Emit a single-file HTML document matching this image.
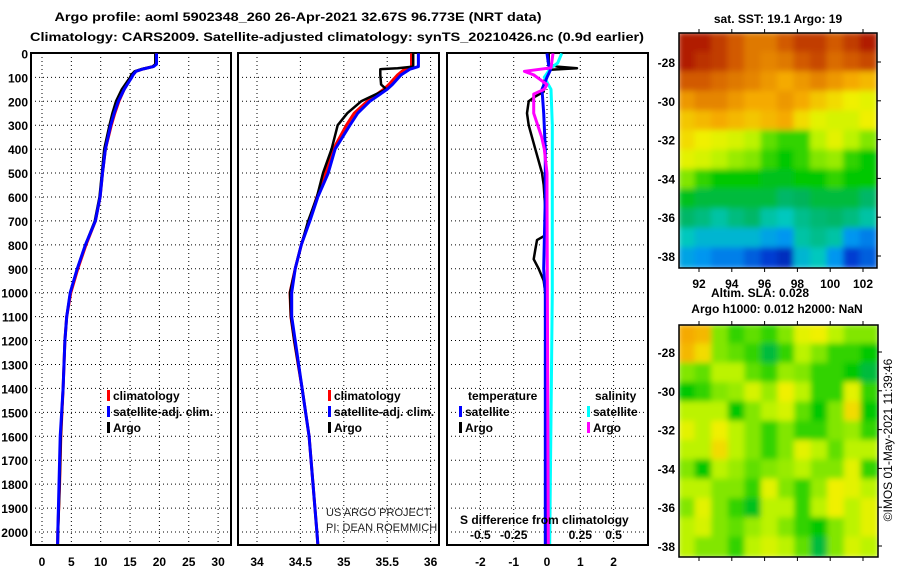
<!DOCTYPE html>
<html><head><meta charset="utf-8"><style>
html,body{margin:0;padding:0;background:#fff;width:900px;height:580px;overflow:hidden}
svg{display:block;font-family:"Liberation Sans",sans-serif}
.b{font-weight:bold;font-size:12px}
</style></head><body>
<svg id="chart" width="900" height="580" viewBox="0 0 900 580">
<defs>
<filter id="blur" x="-5%" y="-5%" width="110%" height="110%"><feGaussianBlur stdDeviation="3"/></filter>
<clipPath id="clipTop"><rect x="679" y="33" width="198" height="235"/></clipPath>
<clipPath id="clipBot"><rect x="679" y="325" width="199" height="232"/></clipPath>
</defs>
<text x="298" y="21" text-anchor="middle" class="b" font-size="14" textLength="487" lengthAdjust="spacingAndGlyphs">Argo profile: aoml 5902348_260 26-Apr-2021 32.67S 96.773E (NRT data)</text>
<text x="337" y="41" text-anchor="middle" class="b" font-size="14" textLength="614" lengthAdjust="spacingAndGlyphs">Climatology: CARS2009. Satellite-adjusted climatology: synTS_20210426.nc (0.9d earlier)</text>
<g id="panels"></g>
<g id="maps"></g>
<text x="778" y="23" text-anchor="middle" class="b">sat. SST: 19.1 Argo: 19</text>
<text x="760" y="297" text-anchor="middle" class="b">Altim. SLA: 0.028</text>
<text x="777" y="313" text-anchor="middle" class="b">Argo h1000: 0.012 h2000: NaN</text>
<text transform="translate(892,440) rotate(-90)" text-anchor="middle" font-size="12">©IMOS 01-May-2021 11:39:46</text>
<text x="326" y="516" font-size="11" fill="#222">US ARGO PROJECT</text>
<text x="326" y="531" font-size="11" fill="#222">PI: DEAN ROEMMICH</text>
<text x="460" y="524" class="b">S difference from climatology</text>
</svg>
<script>
// ---- data ----
const depthTicks=[0,100,200,300,400,500,600,700,800,900,1000,1100,1200,1300,1400,1500,1600,1700,1800,1900,2000];
const tTicks=[0,5,10,15,20,25,30];
const sTicks=[34,34.5,35,35.5,36];
const dTicks=[-2,-1,0,1,2];
const sdTicks=[-0.5,-0.25,0,0.25,0.5];
const tArgoD=[0,45,55,65,75,90,100,150,200,250,300,400,500,600,700,800,900,1000,1100,1200,1400,1600,1800,2000,2050];
const tArgoV=[19.3,19.3,18.8,17,15.8,15.2,15,13.6,12.6,12.0,11.5,10.6,10.2,9.8,9.0,7.4,6.0,4.8,4.2,3.9,3.6,3.2,3.0,2.75,2.7];
const tClimD=[0,45,55,65,75,90,100,150,200,250,300,400,500,600,700,800,900,1000,1100,1200,1400,1600,1800,2000,2050];
const tClimV=[19.4,19.4,18.9,17.2,16,15.5,15.2,14,13.1,12.4,11.8,10.8,10.3,9.9,9.1,7.5,6.1,4.9,4.2,3.9,3.6,3.2,3.0,2.7,2.65];
const tSatV=[19.5,19.5,19,17.2,16,15.5,15.3,14,13,12.3,11.7,10.8,10.3,9.9,9.1,7.4,6.0,4.8,4.2,3.9,3.6,3.1,2.9,2.7,2.65];
const sArgoD=[0,55,62,66,90,130,150,200,250,300,400,500,600,700,800,900,1000,1100,1200,1400,1600,1800,2000,2050];
const sArgoV=[35.80,35.80,35.62,35.42,35.42,35.43,35.49,35.20,35.04,34.93,34.86,34.76,34.69,34.59,34.51,34.44,34.38,34.39,34.43,34.52,34.60,34.645,34.69,34.70];
const sClimV=[35.78,35.78,35.74,35.7,35.62,35.52,35.46,35.27,35.12,35.03,34.88,34.79,34.69,34.60,34.51,34.44,34.38,34.39,34.43,34.52,34.60,34.645,34.69,34.70];
const sSatV=[35.86,35.86,35.80,35.76,35.66,35.56,35.50,35.30,35.16,35.07,34.90,34.82,34.70,34.61,34.51,34.44,34.40,34.40,34.44,34.52,34.60,34.645,34.69,34.70];
const dTArgoD=[0,45,55,62,68,90,120,160,180,200,250,300,350,400,450,500,550,650,720,760,780,820,860,900,950,1000,1100,2050];
const dTArgoV=[0.05,0.05,0.3,0.9,0.1,0,-0.1,-0.1,-0.35,-0.55,-0.6,-0.55,-0.45,-0.35,-0.25,-0.15,-0.1,-0.05,0,-0.05,-0.3,-0.35,-0.4,-0.25,-0.1,-0.05,0,0];
const dTSatD=[0,50,70,100,150,250,400,600,900,1000,1500,2050];
const dTSatV=[0,0.05,0.1,0,-0.15,-0.1,-0.05,-0.05,-0.1,-0.05,-0.05,-0.05];
const dSArgoD=[0,60,75,90,110,130,150,170,250,300,350,400,500,600,2050];
const dSArgoV=[0.045,0.03,-0.17,-0.1,-0.05,0,-0.02,-0.1,-0.1,-0.07,-0.04,-0.02,0,0,0.01];
const dSSatD=[0,40,60,100,150,300,600,1000,2050];
const dSSatV=[0.11,0.08,0.03,-0.02,0.03,0.04,0.04,0.04,0.02];
const sstGrid=[
[0.95,0.95,0.9,0.85,0.8,0.8,0.85,0.9,0.9,0.85,0.9,0.95],
[0.95,0.92,0.9,0.85,0.8,0.78,0.8,0.85,0.88,0.82,0.85,0.88],
[0.85,0.85,0.82,0.8,0.78,0.75,0.72,0.75,0.78,0.75,0.72,0.7],
[0.75,0.78,0.78,0.75,0.72,0.72,0.75,0.72,0.68,0.65,0.62,0.6],
[0.68,0.7,0.72,0.7,0.68,0.7,0.72,0.65,0.6,0.58,0.58,0.62],
[0.65,0.62,0.6,0.58,0.55,0.48,0.45,0.45,0.55,0.6,0.55,0.5],
[0.6,0.58,0.55,0.52,0.5,0.45,0.42,0.45,0.5,0.52,0.45,0.42],
[0.5,0.45,0.42,0.42,0.42,0.4,0.4,0.42,0.42,0.45,0.42,0.42],
[0.4,0.38,0.38,0.38,0.38,0.38,0.35,0.36,0.38,0.38,0.38,0.35],
[0.35,0.33,0.3,0.33,0.35,0.3,0.28,0.32,0.34,0.35,0.33,0.3],
[0.28,0.25,0.25,0.25,0.25,0.22,0.2,0.3,0.32,0.3,0.2,0.18],
[0.22,0.2,0.18,0.18,0.15,0.12,0.08,0.25,0.28,0.2,0.12,0.15]];
const slaGrid=[
[0.72,0.7,0.5,0.45,0.48,0.45,0.5,0.6,0.62,0.55,0.5,0.5],
[0.7,0.65,0.5,0.48,0.45,0.38,0.45,0.55,0.5,0.45,0.45,0.42],
[0.5,0.48,0.55,0.55,0.48,0.45,0.52,0.5,0.45,0.45,0.42,0.38],
[0.42,0.45,0.5,0.52,0.58,0.52,0.62,0.55,0.45,0.45,0.6,0.45],
[0.55,0.55,0.55,0.42,0.5,0.55,0.58,0.48,0.42,0.5,0.65,0.42],
[0.6,0.55,0.62,0.55,0.5,0.45,0.5,0.45,0.45,0.5,0.52,0.45],
[0.55,0.55,0.65,0.55,0.5,0.45,0.5,0.6,0.55,0.48,0.55,0.55],
[0.5,0.42,0.55,0.52,0.48,0.5,0.52,0.55,0.5,0.5,0.6,0.45],
[0.55,0.55,0.5,0.5,0.45,0.6,0.5,0.45,0.52,0.62,0.6,0.55],
[0.5,0.6,0.5,0.45,0.4,0.55,0.55,0.45,0.55,0.62,0.55,0.6],
[0.55,0.58,0.5,0.48,0.52,0.55,0.5,0.45,0.42,0.5,0.55,0.6],
[0.55,0.5,0.5,0.45,0.55,0.58,0.55,0.48,0.38,0.5,0.58,0.55]];
const latTicks=[-28,-30,-32,-34,-36,-38];
const lonTicks=[92,94,96,98,100,102];

// ---- helpers ----
const NS='http://www.w3.org/2000/svg';
function mk(tag,attrs,parent){const e=document.createElementNS(NS,tag);for(const k in attrs)e.setAttribute(k,attrs[k]);parent.appendChild(e);return e;}
const yD=d=>53.4+d*0.2393;
const xT=v=>42+v*5.87;
const xS=v=>257+(v-34)*86.8;
const xDT=v=>547+v*33.3;
const xDS=v=>547+v*4*33.3;
const P=document.getElementById('panels');
const panels=[{x0:31,x1:231,ticks:tTicks,fx:xT,name:'temperature'},{x0:238,x1:439,ticks:sTicks,fx:xS,name:'salinity'},{x0:447,x1:648,ticks:dTicks,fx:xDT,name:'difference'}];
const Y0=53,Y1=545;
panels.forEach(p=>{
  const g=mk('g',{},P);
  
  
  depthTicks.forEach(d=>{const l=mk('line',{x1:p.x0,x2:p.x1,y1:yD(d),y2:yD(d),stroke:'#000','stroke-width':1,'stroke-dasharray':'1,3'},g);
    });
  p.ticks.forEach(t=>{const x=p.fx(t);
    const l=mk('line',{x1:x,x2:x,y1:Y0,y2:Y1,stroke:'#000','stroke-width':1,'stroke-dasharray':'1,3'},g);
    
    const tx=mk('text',{x:x,y:566,'text-anchor':'middle',class:'b'},g);tx.textContent=t;
    });
  const r=mk('rect',{x:p.x0,y:Y0,width:p.x1-p.x0,height:Y1-Y0,fill:'none',stroke:'#000','stroke-width':2},g);
  
});
depthTicks.forEach(d=>{const t=mk('text',{x:28,y:yD(d)+5,'text-anchor':'end',class:'b'},P);t.textContent=d;
  });
sdTicks.forEach(v=>{const t=mk('text',{x:xDS(v),y:539,'text-anchor':'middle',class:'b'},P);t.textContent=v;
  });
function line(D,V,fx,col,name,w){const pts=D.map((d,i)=>fx(V[i]).toFixed(1)+','+yD(d).toFixed(1)).join(' ');
  const l=mk('polyline',{points:pts,fill:'none',stroke:col,'stroke-width':w||3,'stroke-linejoin':'round'},P);
  }
line(tClimD,tClimV,xT,'#f00','temp-climatology-line');
line(tArgoD,tArgoV,xT,'#000','temp-argo-line',2.5);
line(tClimD,tSatV,xT,'#00f','temp-satellite-line');
line(sArgoD,sClimV,xS,'#f00','sal-climatology-line');
line(sArgoD,sArgoV,xS,'#000','sal-argo-line',2.5);
line(sArgoD,sSatV,xS,'#00f','sal-satellite-line');
line(dTArgoD,dTArgoV,xDT,'#000','tdiff-argo-line',2.5);
line(dSSatD,dSSatV,xDS,'#0ff','sdiff-satellite-line');
line(dTSatD,dTSatV,xDT,'#00f','tdiff-satellite-line');
line(dSArgoD,dSArgoV,xDS,'#f0f','sdiff-argo-line');
function leg(x,y,col,txt){const r=mk('rect',{x:x,y:y-10,width:3,height:11,fill:col},P);
  
  const t=mk('text',{x:x+6,y:y,class:'b'},P);t.textContent=txt;
  }
leg(107,400,'#f00','climatology');leg(107,416,'#00f','satellite-adj. clim.');leg(107,432,'#000','Argo');
leg(328,400,'#f00','climatology');leg(328,416,'#00f','satellite-adj. clim.');leg(328,432,'#000','Argo');
leg(459,416,'#00f','satellite');leg(459,432,'#000','Argo');
leg(587,416,'#0ff','satellite');leg(587,432,'#f0f','Argo');
{const t=mk('text',{x:468,y:400,class:'b'},P);t.textContent='temperature';
 const s=mk('text',{x:595,y:400,class:'b'},P);s.textContent='salinity';}

// ---- maps ----
const stops=[[0,[0,20,150]],[0.12,[0,60,210]],[0.2,[0,150,240]],[0.28,[0,200,190]],[0.36,[0,180,90]],[0.42,[0,200,0]],[0.5,[130,230,0]],[0.56,[200,245,0]],[0.62,[240,240,0]],[0.72,[245,170,0]],[0.85,[210,90,0]],[1,[160,0,0]]];
function cmap(v){for(let i=1;i<stops.length;i++){if(v<=stops[i][0]){const a=stops[i-1],b=stops[i],f=(v-a[0])/(b[0]-a[0]);
  return 'rgb('+a[1].map((c,k)=>Math.round(c+(b[1][k]-c)*f)).join(',')+')';}}return 'rgb(160,0,0)';}
const M=document.getElementById('maps');
function drawMap(grid,x0,y0,w,h,clip,name,latY){
  const g=mk('g',{'clip-path':'url(#'+clip+')'},M);
  
  const inner=mk('g',{filter:'url(#blur)'},g);
  const nr=grid.length,nc=grid[0].length,cw=w/nc,ch=h/nr;
  grid.forEach((row,r)=>row.forEach((v,c)=>{const e=mk('rect',{x:x0+c*cw-1,y:y0+r*ch-1,width:cw+2,height:ch+2,fill:cmap(v)},inner);
    }));
  const f=mk('rect',{x:x0,y:y0,width:w,height:h,fill:'none',stroke:'#000','stroke-width':1.5},M);
  
  latTicks.forEach(l=>{const y=latY(l);
    const t=mk('text',{x:x0-4,y:y+5,'text-anchor':'end',class:'b'},M);t.textContent=l;
    
    mk('line',{x1:x0+w,x2:x0+w+4,y1:y,y2:y,stroke:'#000'},M);});
  lonTicks.forEach(l=>{const x=699+(l-92)*16.4;
    mk('line',{x1:x,x2:x,y1:y0+h,y2:y0+h+4,stroke:'#000'},M);mk('line',{x1:x,x2:x,y1:y0-4,y2:y0,stroke:'#000'},M);});
}
drawMap(sstGrid,679,33,198,235,'clipTop','sst-map',l=>62+(-28-l)*19.4);
drawMap(slaGrid,679,325,199,232,'clipBot','sla-map',l=>352+(-28-l)*19.4);
lonTicks.forEach(l=>{const t=mk('text',{x:699+(l-92)*16.4,y:288,'text-anchor':'middle',class:'b'},M);t.textContent=l;
  });
</script>
</body></html>
